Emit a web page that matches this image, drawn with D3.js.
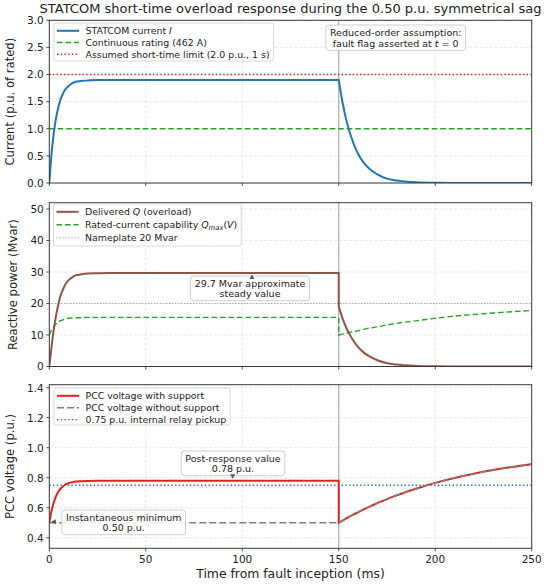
<!DOCTYPE html>
<html>
<head>
<meta charset="utf-8">
<script src="https://cdn.jsdelivr.net/npm/d3@7"></script>
<style>
  body { margin: 0; background: #fff; }
  svg { display: block; }
  text { font-family: "DejaVu Sans", sans-serif; fill: #222; }
</style>
</head>
<body>
<div id="chart"></div>
<script>
var width = 550, height = 584;
var plotLeft = 49.3, plotRight = 531.7;

// time samples (ms), before and after the fault flag clears at 150 ms
var tPre = [0, 1, 2, 3, 4, 5, 6, 7, 8, 10, 12, 14, 16, 20, 25, 30, 40, 150];
var tPost = [150, 151, 152, 154, 156, 158, 160, 163, 166, 170, 175, 180, 190, 200, 210, 220, 230, 240, 250];

// STATCOM current (p.u. of rated)
var currentPre = [0, 0.47, 0.83, 1.09, 1.29, 1.44, 1.56, 1.64, 1.71, 1.79, 1.84, 1.87, 1.88, 1.89, 1.90, 1.90, 1.90, 1.90];
var currentPost = [1.90, 1.68, 1.48, 1.15, 0.90, 0.70, 0.54, 0.37, 0.26, 0.16, 0.08, 0.045, 0.013, 0.004, 0.001, 0, 0, 0, 0];

// delivered Q (Mvar)
var qPre = [0, 5.4, 10.3, 14.4, 17.8, 20.5, 22.8, 24.3, 25.7, 27.4, 28.4, 29.0, 29.2, 29.5, 29.6, 29.7, 29.7, 29.7];
var qPost = [19.0, 17.1, 15.2, 12.2, 9.8, 7.8, 6.2, 4.4, 3.2, 2.0, 1.05, 0.6, 0.19, 0.06, 0.02, 0, 0, 0, 0];

// rated-current capability Qmax(V) (Mvar)
var qCapPre = [10.0, 11.4, 12.4, 13.2, 13.8, 14.3, 14.6, 14.8, 15.0, 15.3, 15.4, 15.5, 15.5, 15.6, 15.6, 15.6, 15.6, 15.6];
var qCapPost = [10.0, 10.15, 10.3, 10.6, 10.9, 11.1, 11.4, 11.8, 12.2, 12.6, 13.2, 13.7, 14.5, 15.3, 16.0, 16.5, 17.0, 17.4, 17.8];

// PCC voltage (p.u.)
var vSupPre = [0.500, 0.570, 0.622, 0.661, 0.691, 0.713, 0.730, 0.742, 0.752, 0.764, 0.771, 0.775, 0.777, 0.779, 0.780, 0.780, 0.780, 0.780];
var vNoPre = [0.5, 0.5, 0.5, 0.5, 0.5, 0.5, 0.5, 0.5, 0.5, 0.5, 0.5, 0.5, 0.5, 0.5, 0.5, 0.5, 0.5, 0.5];
var vPost = [0.500, 0.508, 0.515, 0.529, 0.544, 0.557, 0.570, 0.589, 0.608, 0.631, 0.658, 0.683, 0.727, 0.766, 0.799, 0.827, 0.851, 0.872, 0.890];

var faultClearMs = 150;
var ratedCurrent = 1.0, shortTimeLimit = 2.0, nameplateMvar = 20, relayPickup = 0.75;

var xTicks = [0, 50, 100, 150, 200, 250];
var currentTicks = [0, 0.5, 1.0, 1.5, 2.0, 2.5, 3.0];
var qTicks = [0, 10, 20, 30, 40, 50];
var vTicks = [0.4, 0.6, 0.8, 1.0, 1.2, 1.4];

var fontFamily = "'DejaVu Sans', sans-serif";
var c = {
  blue: "#1f77b4", green: "#2ca02c", red: "#e8201c", brown: "#8c564b",
  gray: "#7f7f7f", frame: "#3a3a3a", grid: "#dcdcdc", vline: "#a8a8a8"
};
var tickFont = "10.5px", legendFont = "9.4px", noteFont = "9.5px";

var svg = d3.select("#chart").append("svg")
  .attr("width", width).attr("height", height)
  .attr("font-family", fontFamily);

var x = d3.scaleLinear().domain([0, 250]).range([plotLeft, plotRight]);

var panels = [
  { top: 20.3, bottom: 183, domain: [0, 3], ticks: currentTicks, fmt: d3.format(".1f"),
    label: "Current (p.u. of rated)", labelX: 10 },
  { top: 202.7, bottom: 366.5, domain: [0, 52], ticks: qTicks, fmt: d3.format("d"),
    label: "Reactive power (Mvar)", labelX: 13 },
  { top: 384.7, bottom: 548.3, domain: [0.33, 1.42], ticks: vTicks, fmt: d3.format(".1f"),
    label: "PCC voltage (p.u.)", labelX: 10 }
];

// title
svg.append("text")
  .attr("x", (plotLeft + plotRight) / 2).attr("y", 12.8)
  .attr("text-anchor", "middle").attr("font-size", "13px")
  .text("STATCOM short-time overload response during the 0.50 p.u. symmetrical sag");

function segPath(y, pre, post) {
  var line = d3.line().x(function (d) { return x(d[0]); }).y(function (d) { return y(d[1]); })
    .curve(d3.curveMonotoneX);
  var a = line(d3.zip(tPre, pre));
  var b = line(d3.zip(tPost, post));
  return a + "L" + b.slice(1);
}

function flatPath(y, v) {
  return d3.line()([[x(0), y(v)], [x(250), y(v)]]);
}

function addParts(textSel, parts) {
  parts.forEach(function (p) {
    var ts = textSel.append("tspan").text(p.t);
    if (p.i) ts.attr("font-style", "italic");
    if (p.sub) ts.attr("font-size", "6.8px").attr("dy", "2px");
    if (p.up) ts.attr("dy", "-2px");
  });
}

function legend(g, x0, y0, rows, rowH, boxH) {
  var lg = g.append("g");
  var box = lg.append("rect");
  var maxR = 0;
  rows.forEach(function (r, i) {
    var yy = y0 + 7.8 + i * rowH;
    lg.append("line").attr("x1", x0 + 3).attr("x2", x0 + 25).attr("y1", yy).attr("y2", yy)
      .attr("stroke", r.color).attr("stroke-width", r.w).attr("stroke-dasharray", r.dash || null);
    var t = lg.append("text").attr("x", x0 + 31.5).attr("y", yy + 3.4).attr("font-size", legendFont);
    addParts(t, r.parts);
    var bb = t.node().getBBox();
    maxR = Math.max(maxR, bb.x + bb.width);
  });
  box.attr("x", x0).attr("y", y0).attr("width", maxR - x0 + 4).attr("height", boxH)
    .attr("rx", 2.5).attr("fill", "#fff").attr("fill-opacity", 0.85)
    .attr("stroke", "#cfcfcf").attr("stroke-width", 0.8);
}

function noteBox(g, cx, y1, lines, gap) {
  var ng = g.append("g");
  var box = ng.append("rect");
  var t = ng.append("text").attr("text-anchor", "middle").attr("font-size", noteFont);
  lines.forEach(function (ln, i) {
    var row = t.append("tspan").attr("x", cx).attr("y", y1 + i * gap);
    ln.forEach(function (p) {
      var ts = row.append("tspan").text(p.t);
      if (p.i) ts.attr("font-style", "italic");
    });
  });
  var bb = t.node().getBBox();
  box.attr("x", bb.x - 4).attr("y", bb.y - 2).attr("width", bb.width + 8).attr("height", bb.height + 3.5)
    .attr("rx", 3).attr("fill", "#fff").attr("fill-opacity", 0.9)
    .attr("stroke", "#c8c8c8").attr("stroke-width", 0.9);
  return bb;
}

function arrowHead(g, tx, ty, dir) {
  var s = 3.5, l = 4.5, pts;
  if (dir === "up") pts = [[tx, ty], [tx - s / 1.4, ty + l], [tx + s / 1.4, ty + l]];
  if (dir === "down") pts = [[tx, ty], [tx - s / 1.4, ty - l], [tx + s / 1.4, ty - l]];
  if (dir === "left") pts = [[tx, ty], [tx + l, ty - s / 1.4], [tx + l, ty + s / 1.4]];
  g.append("path").attr("d", d3.line()(pts) + "Z").attr("fill", "#555");
}

panels.forEach(function (p, k) {
  var y = d3.scaleLinear().domain(p.domain).range([p.bottom, p.top]);
  p.y = y;
  var g = svg.append("g");
  var clipId = "clip" + k;
  svg.append("clipPath").attr("id", clipId).append("rect")
    .attr("x", plotLeft).attr("y", p.top).attr("width", plotRight - plotLeft).attr("height", p.bottom - p.top);

  // grid
  g.selectAll(".gx").data(xTicks).enter().append("line")
    .attr("x1", function (d) { return x(d); }).attr("x2", function (d) { return x(d); })
    .attr("y1", p.top).attr("y2", p.bottom)
    .attr("stroke", c.grid).attr("stroke-width", 0.7).attr("stroke-dasharray", "3,2");
  g.selectAll(".gy").data(p.ticks).enter().append("line")
    .attr("x1", plotLeft).attr("x2", plotRight)
    .attr("y1", function (d) { return y(d); }).attr("y2", function (d) { return y(d); })
    .attr("stroke", c.grid).attr("stroke-width", 0.7).attr("stroke-dasharray", "3,2");

  // fault flag cleared
  g.append("line").attr("x1", x(faultClearMs)).attr("x2", x(faultClearMs))
    .attr("y1", p.top).attr("y2", p.bottom).attr("stroke", c.vline).attr("stroke-width", 1.1);

  var plot = g.append("g").attr("clip-path", "url(#" + clipId + ")").attr("fill", "none");

  if (k === 0) {
    plot.append("path").attr("d", flatPath(y, ratedCurrent))
      .attr("stroke", c.green).attr("stroke-width", 1.4).attr("stroke-dasharray", "5.5,3");
    plot.append("path").attr("d", flatPath(y, shortTimeLimit))
      .attr("stroke", c.red).attr("stroke-width", 1.4).attr("stroke-dasharray", "1.4,2.3");
    plot.append("path").attr("d", segPath(y, currentPre, currentPost))
      .attr("stroke", c.blue).attr("stroke-width", 2);
  }
  if (k === 1) {
    plot.append("path").attr("d", flatPath(y, nameplateMvar))
      .attr("stroke", "#909090").attr("stroke-width", 1).attr("stroke-dasharray", "1,2");
    plot.append("path").attr("d", segPath(y, qCapPre, qCapPost))
      .attr("stroke", c.green).attr("stroke-width", 1.4).attr("stroke-dasharray", "5.5,3");
    plot.append("path").attr("d", segPath(y, qPre, qPost))
      .attr("stroke", c.brown).attr("stroke-width", 2);
  }
  if (k === 2) {
    plot.append("path").attr("d", flatPath(y, relayPickup))
      .attr("stroke", c.blue).attr("stroke-width", 1.4).attr("stroke-dasharray", "1.4,2.3");
    plot.append("path").attr("d", segPath(y, vSupPre, vPost))
      .attr("stroke", c.red).attr("stroke-width", 2);
    plot.append("path").attr("d", segPath(y, vNoPre, vPost))
      .attr("stroke", c.gray).attr("stroke-width", 1.5).attr("stroke-dasharray", "7,3");
  }

  // frame
  g.append("rect").attr("x", plotLeft).attr("y", p.top)
    .attr("width", plotRight - plotLeft).attr("height", p.bottom - p.top)
    .attr("fill", "none").attr("stroke", c.frame).attr("stroke-width", 1);

  // y ticks
  g.selectAll(".ty").data(p.ticks).enter().append("line")
    .attr("x1", plotLeft - 3).attr("x2", plotLeft)
    .attr("y1", function (d) { return y(d); }).attr("y2", function (d) { return y(d); })
    .attr("stroke", c.frame).attr("stroke-width", 0.9);
  g.selectAll(".ly").data(p.ticks).enter().append("text")
    .attr("x", plotLeft - 5.5).attr("y", function (d) { return y(d) + 3.8; })
    .attr("text-anchor", "end").attr("font-size", tickFont)
    .text(function (d) { return p.fmt(d); });

  // x ticks
  g.selectAll(".tx").data(xTicks).enter().append("line")
    .attr("x1", function (d) { return x(d); }).attr("x2", function (d) { return x(d); })
    .attr("y1", p.bottom).attr("y2", p.bottom + 3)
    .attr("stroke", c.frame).attr("stroke-width", 0.9);

  // y label
  g.append("text")
    .attr("transform", "translate(" + (p.labelX + 4.2) + "," + ((p.top + p.bottom) / 2) + ") rotate(-90)")
    .attr("text-anchor", "middle").attr("font-size", "11.6px").text(p.label);
});

// x tick labels and axis title under the bottom panel
var pb = panels[2];
svg.selectAll(".lx").data(xTicks).enter().append("text")
  .attr("x", function (d) { return x(d); }).attr("y", pb.bottom + 15)
  .attr("text-anchor", "middle").attr("font-size", tickFont)
  .text(function (d) { return d; });
svg.append("text").attr("x", (plotLeft + plotRight) / 2).attr("y", 578)
  .attr("text-anchor", "middle").attr("font-size", "12.4px")
  .text("Time from fault inception (ms)");

// legends
var g0 = svg.append("g"), g1 = svg.append("g"), g2 = svg.append("g");
legend(g0, 54, 23, [
  { color: c.blue, w: 2, parts: [{ t: "STATCOM current " }, { t: "I", i: true }] },
  { color: c.green, w: 1.4, dash: "5.5,3", parts: [{ t: "Continuous rating (462 A)" }] },
  { color: c.red, w: 1.4, dash: "1.4,2.3", parts: [{ t: "Assumed short-time limit (2.0 p.u., 1 s)" }] }
], 11.7, 38);
legend(g1, 53.5, 204, [
  { color: c.brown, w: 2, parts: [{ t: "Delivered " }, { t: "Q", i: true }, { t: " (overload)" }] },
  { color: c.green, w: 1.4, dash: "5.5,3", parts: [{ t: "Rated-current capability " }, { t: "Q", i: true },
    { t: "max", i: true, sub: true }, { t: "(", up: true }, { t: "V", i: true }, { t: ")" }] },
  { color: "#909090", w: 1, dash: "1,2", parts: [{ t: "Nameplate 20 Mvar" }] }
], 13, 42);
legend(g2, 54, 388, [
  { color: c.red, w: 2, parts: [{ t: "PCC voltage with support" }] },
  { color: c.gray, w: 1.5, dash: "7,3", parts: [{ t: "PCC voltage without support" }] },
  { color: c.blue, w: 1.4, dash: "1.4,2.3", parts: [{ t: "0.75 p.u. internal relay pickup" }] }
], 11.9, 37);

// annotations
noteBox(g0, 395.7, 36, [[{ t: "Reduced-order assumption:" }],
  [{ t: "fault flag asserted at " }, { t: "t", i: true }, { t: " = 0" }]], 10.8);

var yQ = panels[1].y, yV = panels[2].y;
noteBox(g1, 250, 287, [[{ t: "29.7 Mvar approximate" }], [{ t: "steady value" }]], 10.2);
arrowHead(g1, x(105), yQ(29.7) + 1.5, "up");

noteBox(g2, 233, 462, [[{ t: "Post-response value" }], [{ t: "0.78 p.u." }]], 10.2);
arrowHead(g2, x(95), yV(0.78) - 2, "down");

noteBox(g2, 123.7, 521, [[{ t: "Instantaneous minimum" }], [{ t: "0.50 p.u." }]], 10.2);
arrowHead(g2, x(0) + 2, yV(0.5) - 1, "left");
</script>
</body>
</html>
